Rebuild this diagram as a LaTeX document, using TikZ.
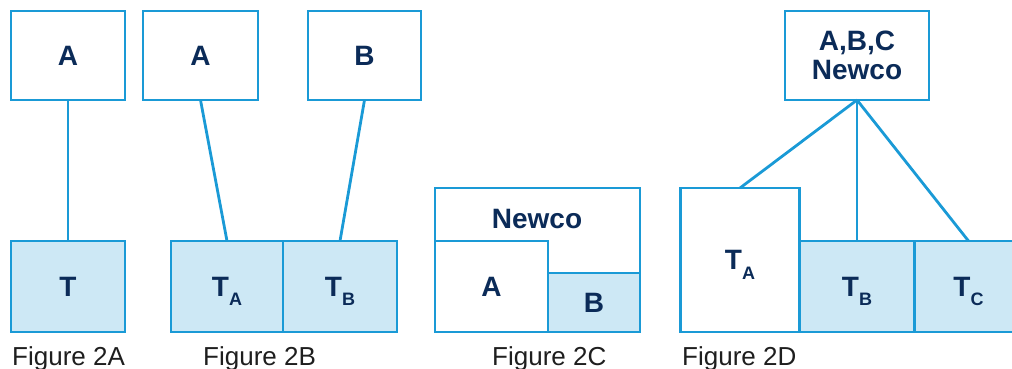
\documentclass[tikz,border=0pt]{standalone}
\usepackage{fontspec}
\setmainfont{Liberation Sans}
\usepackage{tikz}
\usetikzlibrary{positioning}

\definecolor{boxline}{HTML}{1A9AD6}
\definecolor{boxfill}{HTML}{CDE8F5}
\definecolor{labtext}{HTML}{0B2B58}
\definecolor{captext}{HTML}{1E1E1E}

\newcommand{\Tsub}[1]{T\raisebox{-9.5pt}[0pt][0pt]{\fontsize{18}{18}\selectfont #1}}

\begin{document}
\begin{tikzpicture}
	[x=1pt,y=-1pt,node distance=0pt,
		co node/.style={rectangle,draw=boxline,fill=white,line width=2.8pt,inner sep=0pt,outer sep=0pt,
			text=labtext,font=\fontsize{28}{28}\selectfont\bfseries,align=center},
		tg node/.style={co node,fill=boxfill},
		name text/.style={text=labtext,font=\fontsize{28}{28}\selectfont\bfseries,inner sep=0pt},
		fig cap/.style={anchor=base west,text=captext,font=\fontsize{26}{26}\selectfont,inner sep=0pt},
		link/.style={draw=boxline,line width=2.8pt}]

	\clip (0,0) rectangle (1012,369);

	% Figure 2A
	\node[co node, minimum width=114pt, minimum height=89pt] (a2a)  at (68,55.5)   {A};
	\node[tg node, minimum width=114pt, minimum height=91pt] (t2a)  at (68,286.5)  {T};

	% Figure 2B
	\node[co node, minimum width=115pt, minimum height=89pt] (a2b)  at (200.5,55.5) {A};
	\node[co node, minimum width=113pt, minimum height=89pt] (b2b)  at (364.5,55.5) {B};
	\node[tg node, minimum width=112pt, minimum height=91pt] (ta2b) at (227,286.5)  {\Tsub{A}};
	\node[tg node, minimum width=114pt, minimum height=91pt] (tb2b) [right=of ta2b] {\Tsub{B}};

	% Figure 2C
	\node[co node, minimum width=205pt, minimum height=144pt] (newco2c) at (537.5,260) {};
	\node[name text] (newcotxt) at (537,219) {Newco};
	\node[co node, minimum width=113pt, minimum height=91pt] (a2c) at (491.5,286.5) {A};
	\node[tg node, minimum width=92pt, minimum height=59pt]  (b2c) at (594,302.5)   {B};

	% Figure 2D
	\node[co node, minimum width=144pt, minimum height=89pt]  (abc2d) at (857,55.5)   {A,B,C\\[1pt]Newco};
	\node[co node, minimum width=119pt, minimum height=144pt] (ta2d)  at (740,260)    {\Tsub{A}};
	\node[tg node, minimum width=115pt, minimum height=91pt]  (tb2d)  at (857,286.5)  {\Tsub{B}};
	\node[tg node, minimum width=108pt, minimum height=91pt]  (tc2d)  [right=of tb2d] {\Tsub{C}};

	\path[link]
	(a2a) edge (t2a)
	(a2b.south) edge (ta2b.north)
	(b2b.south) edge (tb2b.north)
	(abc2d.south) edge (ta2d.north)
	(abc2d.south) edge (tb2d.north)
	(abc2d.south) edge (tc2d.north)
	;

	\node[fig cap] (cap2a) at (12,365)  {Figure 2A};
	\node[fig cap] (cap2b) at (203,365) {Figure 2B};
	\node[fig cap] (cap2c) at (492,365) {Figure 2C};
	\node[fig cap] (cap2d) at (682,365) {Figure 2D};

\end{tikzpicture}
\end{document}
